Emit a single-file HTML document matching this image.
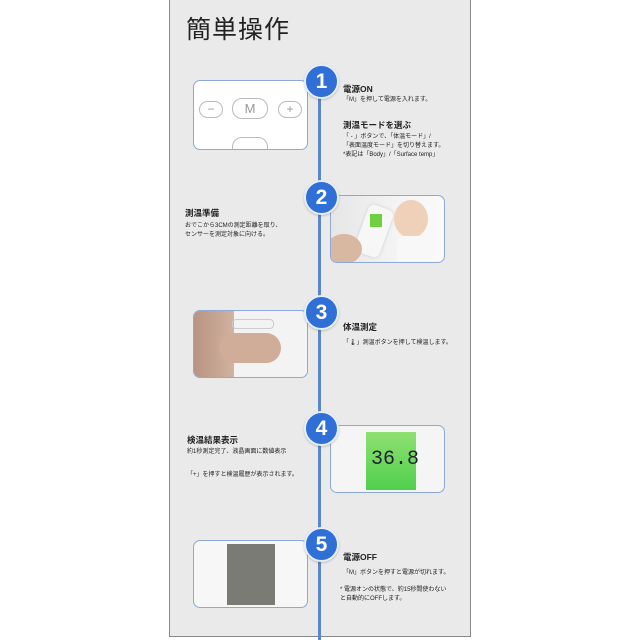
<!DOCTYPE html>
<html><head><meta charset="utf-8"><style>
body{margin:0;width:640px;height:640px;background:#fff;position:relative;overflow:hidden;font-family:"Liberation Sans","Noto Sans CJK JP",sans-serif;color:#222}
.panel{position:absolute;left:169px;top:-2px;width:300px;height:637px;background:#eaeaea;border:1px solid #888}
.line{position:absolute;left:318px;top:80px;width:3px;height:560px;background:#5b86c8}
.c{position:absolute;width:31px;height:31px;border-radius:50%;background:#2f6fd6;color:#fff;font-weight:bold;font-size:21px;text-align:center;line-height:31px;left:304px;border:2px solid #e8eef8;box-shadow:0 1px 2px rgba(0,0,0,.2)}
.box{position:absolute;width:113px;height:66px;border:1.5px solid #8ea8d8;border-radius:7px;background:#fff;overflow:hidden}
.t{position:absolute;font-size:8.5px;font-weight:bold;white-space:nowrap}
.s{position:absolute;font-size:6px;white-space:nowrap;line-height:9px}
</style></head><body>
<div class="panel"></div>
<div style="position:absolute;left:186px;top:10px;font-size:25px;letter-spacing:1px">簡単操作</div>
<div class="line"></div>

<div class="box" style="left:193px;top:80px;height:68px">
<div style="position:absolute;left:5px;top:20px;width:22px;height:15px;border:1.5px solid #bbb;border-radius:9px;text-align:center;font-size:12px;line-height:14px;color:#999">−</div>
<div style="position:absolute;left:38px;top:17px;width:34px;height:19px;border:1.5px solid #bbb;border-radius:10px;text-align:center;font-size:13px;line-height:19px;color:#999">M</div>
<div style="position:absolute;left:84px;top:20px;width:22px;height:15px;border:1.5px solid #bbb;border-radius:9px;text-align:center;font-size:12px;line-height:14px;color:#999">+</div>
<div style="position:absolute;left:38px;top:56px;width:34px;height:19px;border:1.5px solid #bbb;border-radius:10px"></div>
</div>
<div class="c" style="top:64px">1</div>
<div class="t" style="left:343px;top:83px">電源ON</div>
<div class="s" style="left:343px;top:96px">「M」を押して電源を入れます。</div>
<div class="t" style="left:343px;top:119px">測温モードを選ぶ</div>
<div class="s" style="left:343px;top:133px">「 - 」ボタンで、「体温モード」/<br>「表面温度モード」を切り替えます。<br>*表記は「Body」/「Surface temp」</div>

<div class="box" style="left:330px;top:195px;background:linear-gradient(90deg,#e6e6e6,#f4f4f4 60%,#fafafa)">
<div style="position:absolute;left:30px;top:10px;width:26px;height:50px;background:#f7f7f7;transform:rotate(20deg);border-radius:6px;box-shadow:0 0 3px #ccc"></div>
<div style="position:absolute;left:39px;top:18px;width:12px;height:13px;background:#6fcf3f"></div>
<div style="position:absolute;left:63px;top:4px;width:34px;height:38px;background:#efd0b8;border-radius:50%"></div>
<div style="position:absolute;left:66px;top:40px;width:30px;height:30px;background:#f8f8f8;border-radius:8px"></div>
<div style="position:absolute;left:-5px;top:38px;width:36px;height:30px;background:#d8b8a0;border-radius:50%"></div>
</div>
<div class="c" style="top:180px">2</div>
<div class="t" style="left:185px;top:207px">測温準備</div>
<div class="s" style="left:185px;top:222px">おでこから3CMの測定距離を取り、<br>センサーを測定対象に向ける。</div>

<div class="box" style="left:193px;top:310px;background:#f3f3f3">
<div style="position:absolute;left:0;top:0;width:40px;height:68px;background:linear-gradient(90deg,#b89482,#d2b2a0)"></div>
<div style="position:absolute;left:25px;top:22px;width:62px;height:30px;background:#cfad99;border-radius:15px"></div>
<div style="position:absolute;left:38px;top:8px;width:40px;height:8px;border:1px solid #ccc;border-radius:4px"></div>
</div>
<div class="c" style="top:295px">3</div>
<div class="t" style="left:343px;top:321px">体温測定</div>
<div class="s" style="left:343px;top:339px">「🌡」測温ボタンを押して検温します。</div>

<div class="box" style="left:330px;top:425px;background:#f5f5f5">
<div style="position:absolute;left:35px;top:6px;width:50px;height:58px;background:linear-gradient(180deg,#8fe070,#4fd04f)"></div>
<div style="position:absolute;left:40px;top:22px;font-size:20px;color:#223;font-family:'Liberation Mono',monospace">36.8</div>
</div>
<div class="c" style="top:411px">4</div>
<div class="t" style="left:187px;top:434px">検温結果表示</div>
<div class="s" style="left:187px;top:448px">約1秒測定完了、液晶画面に数値表示</div>
<div class="s" style="left:187px;top:471px">「+」を押すと検温履歴が表示されます。</div>

<div class="box" style="left:193px;top:540px;background:#f7f7f7">
<div style="position:absolute;left:33px;top:3px;width:48px;height:61px;background:#7a7b74"></div>
</div>
<div class="c" style="top:527px">5</div>
<div class="t" style="left:343px;top:551px">電源OFF</div>
<div class="s" style="left:343px;top:569px">「M」ボタンを押すと電源が切れます。</div>
<div class="s" style="left:340px;top:586px">* 電源オンの状態で、約15秒間使わない<br>と自動的にOFFします。</div>
</body></html>
